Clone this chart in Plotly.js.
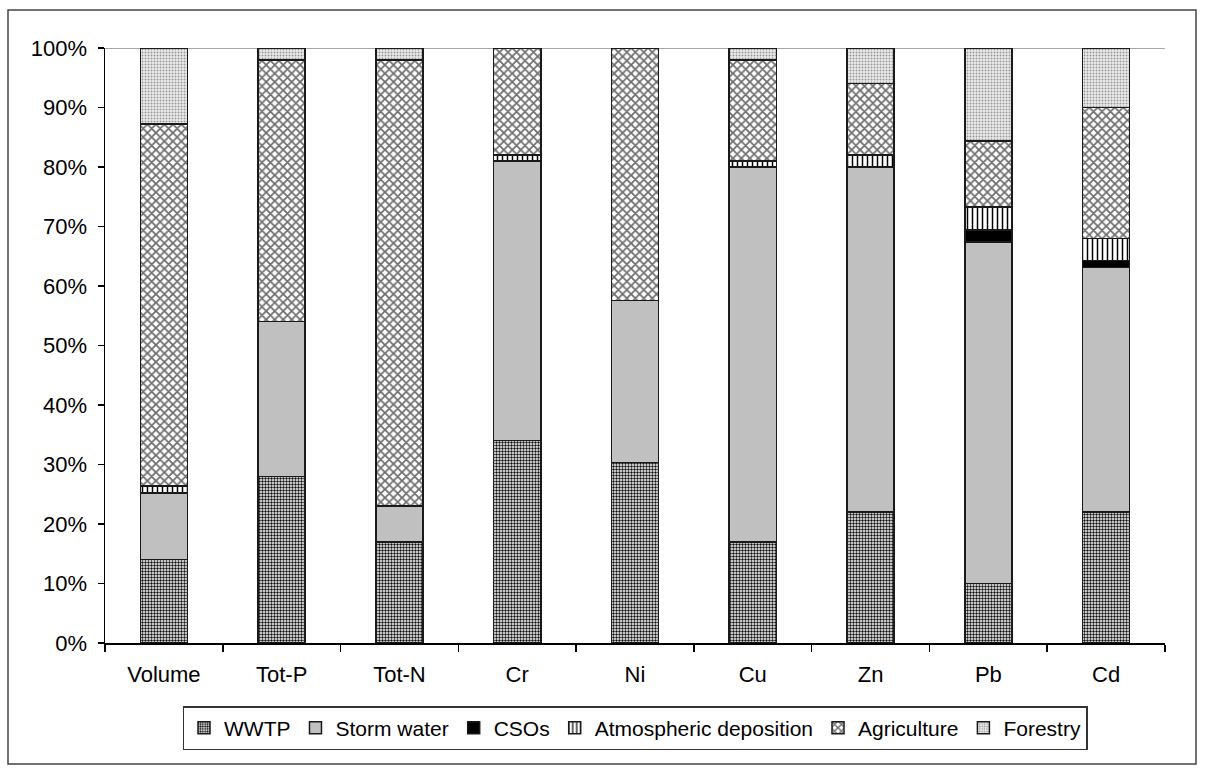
<!DOCTYPE html>
<html>
<head>
<meta charset="utf-8">
<script src="https://cdn.plot.ly/plotly-3.0.1.min.js"></script>
<style>html,body{margin:0;padding:0;background:#fff;}#chart{width:1205px;height:775px;}</style>
</head>
<body>
<div id="chart"></div>
<script>
var categories = ["Volume", "Tot-P", "Tot-N", "Cr", "Ni", "Cu", "Zn", "Pb", "Cd"];
var wwtp       = [14, 28, 17, 34, 30.3, 17, 22, 10, 22];
var stormWater = [11.2, 26, 6, 47, 27.3, 63, 58, 57.4, 41.1];
var csos       = [0, 0, 0, 0, 0, 0, 0, 2, 1.2];
var atmospheric= [1.2, 0, 0, 1, 0, 1, 2, 3.9, 3.7];
var agriculture= [60.8, 44, 75, 18, 42.4, 17, 12, 11.1, 22];
var forestry   = [12.8, 2, 2, 0, 0, 2, 6, 15.6, 10];
var yTickVals  = [0, 10, 20, 30, 40, 50, 60, 70, 80, 90, 100];
var yTickText  = ["0%", "10%", "20%", "30%", "40%", "50%", "60%", "70%", "80%", "90%", "100%"];

var lineStyle = {color: "#1a1a1a", width: 1.5};
function bar(name, vals, marker) {
  marker.line = lineStyle;
  return {type: "bar", name: name, x: categories, y: vals, marker: marker, hoverinfo: "name+y"};
}
var data = [
  bar("WWTP", wwtp, {color: "#ffffff", pattern: {shape: ".", fgcolor: "#111111", bgcolor: "#ffffff", size: 3, solidity: 0.5}}),
  bar("Storm water", stormWater, {color: "#c0c0c0"}),
  bar("CSOs", csos, {color: "#000000"}),
  bar("Atmospheric deposition", atmospheric, {color: "#ffffff", pattern: {shape: "|", fgcolor: "#000000", bgcolor: "#ffffff", size: 5, solidity: 0.3}}),
  bar("Agriculture", agriculture, {color: "#ffffff", pattern: {shape: "x", fgcolor: "#6e6e6e", bgcolor: "#ffffff", size: 6, solidity: 0.5}}),
  bar("Forestry", forestry, {color: "#e6e6e6", pattern: {shape: ".", fgcolor: "#9a9a9a", bgcolor: "#ececec", size: 3, solidity: 0.35}})
];

var font = {family: "Liberation Sans, Arial, sans-serif", size: 22, color: "#000000"};
var legendFont = {family: "Liberation Sans, Arial, sans-serif", size: 21, color: "#000000"};
var layout = {
  width: 1205, height: 775,
  margin: {l: 105, r: 40, t: 48, b: 132},
  paper_bgcolor: "#ffffff", plot_bgcolor: "#ffffff",
  barmode: "stack", bargap: 0.6,
  font: font,
  showlegend: true,
  xaxis: {
    type: "category", showgrid: false, zeroline: false,
    showline: true, linecolor: "#000000", linewidth: 1.5,
    ticks: "outside", tickson: "boundaries", ticklen: 7, tickcolor: "#000000", tickwidth: 1.5,
    ticklabelstandoff: 11, tickfont: font
  },
  yaxis: {
    range: [0, 100], tickmode: "array", tickvals: yTickVals, ticktext: yTickText,
    showgrid: false, zeroline: false,
    showline: true, linecolor: "#000000", linewidth: 1.5,
    ticks: "outside", ticklen: 6, tickcolor: "#000000", tickwidth: 1.5,
    ticklabelstandoff: 6, tickfont: font
  },
  legend: {
    orientation: "h", x: 0.5, xanchor: "center", y: -0.106, yanchor: "top",
    bordercolor: "#333333", borderwidth: 1.5, bgcolor: "#ffffff",
    font: legendFont, traceorder: "normal", itemclick: false
  },
  shapes: [
    {type: "line", xref: "paper", yref: "y", x0: 0, x1: 1, y0: 100, y1: 100,
     line: {color: "#8a8a8a", width: 1.5}, layer: "below"},
    {type: "rect", xref: "paper", yref: "paper",
     x0: (8 - 105) / 1060, x1: (1196 - 105) / 1060,
     y0: (643 - 764) / 595, y1: (643 - 10) / 595,
     line: {color: "#444444", width: 1.5}, fillcolor: "rgba(0,0,0,0)", layer: "below"}
  ]
};
Plotly.newPlot("chart", data, layout, {displayModeBar: false, staticPlot: true});
</script>
</body>
</html>
